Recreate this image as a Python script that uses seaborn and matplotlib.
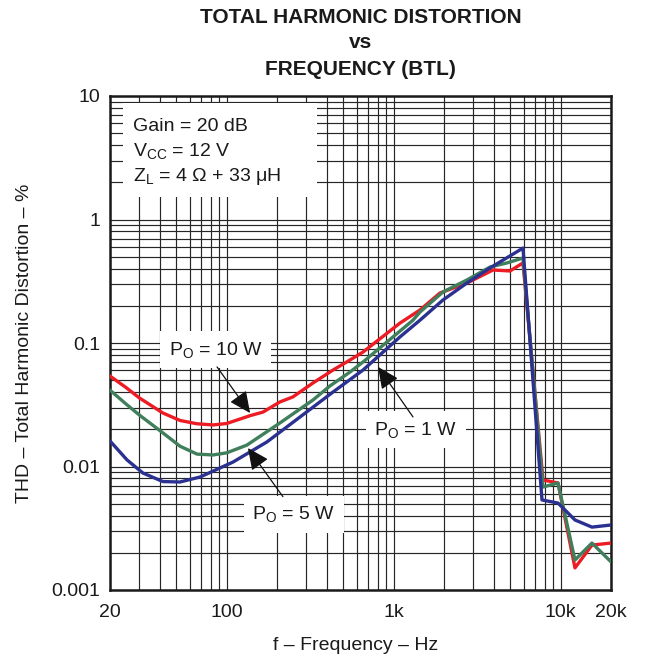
import numpy as np
import pandas as pd
import matplotlib
matplotlib.use("Agg")
import matplotlib.pyplot as plt
import seaborn as sns
from matplotlib.ticker import FixedLocator, FixedFormatter, LogLocator, NullFormatter
from matplotlib.patches import Rectangle

# ---------------- data ----------------
f_10w = [20, 25, 30, 41.5, 52.5, 66, 82.8, 100, 138, 165, 208, 249, 328, 433, 547, 655,
         1090, 1436, 1892, 2745, 3929, 4968, 5944, 7832, 9630, 12170, 15380, 20000]
thd_10w = [0.054, 0.0435, 0.0359, 0.0271, 0.0236, 0.0222, 0.0217, 0.0223, 0.0258, 0.0276,
           0.0333, 0.0366, 0.0474, 0.0604, 0.0728, 0.0845, 0.145, 0.185, 0.254, 0.306,
           0.390, 0.383, 0.445, 0.00778, 0.00735, 0.00151, 0.00231, 0.0024]

f_5w = [20, 25, 30, 41.5, 52.5, 66.4, 82.8, 100, 132, 208, 328, 415, 547, 655,
        1304, 1436, 1972, 2745, 3770, 4765, 5944, 7832, 9630, 12170, 15380, 20000]
thd_5w = [0.0415, 0.032, 0.0261, 0.0187, 0.0146, 0.0126, 0.0124, 0.0129, 0.0149, 0.0225,
          0.0345, 0.0449, 0.0582, 0.0702, 0.153, 0.178, 0.259, 0.324, 0.412, 0.445,
          0.488, 0.00682, 0.00735, 0.00175, 0.0024, 0.00169]

f_1w = [20, 25.3, 31.5, 41.5, 52.5, 69.2, 109, 174, 275, 433, 655, 1090, 1436, 1972,
        2745, 3770, 5944, 7724, 9630, 12170, 15380, 20000]
thd_1w = [0.0161, 0.0113, 0.00885, 0.00755, 0.00749, 0.00822, 0.01086, 0.0158, 0.0252,
          0.0401, 0.0604, 0.112, 0.153, 0.223, 0.306, 0.405, 0.587, 0.00536, 0.00506,
          0.00369, 0.00323, 0.00336]

series_names = ["PO = 10 W", "PO = 5 W", "PO = 1 W"]
series_colors = ["#ED1C24", "#3F7F5C", "#2B3190"]

x_ticks = [20, 100, 1000, 10000, 20000]
x_tick_labels = ["20", "100", "1k", "10k", "20k"]
y_ticks = [0.001, 0.01, 0.1, 1, 10]
y_tick_labels = ["0.001", "0.01", "0.1", "1", "10"]

df = pd.concat([
    pd.DataFrame({"f": f_10w, "thd": thd_10w, "series": series_names[0]}),
    pd.DataFrame({"f": f_5w, "thd": thd_5w, "series": series_names[1]}),
    pd.DataFrame({"f": f_1w, "thd": thd_1w, "series": series_names[2]}),
], ignore_index=True)

# ---------------- style ----------------
sns.set_style("white")
plt.rcParams["font.family"] = ["Liberation Sans", "DejaVu Sans"]
plt.rcParams["mathtext.fontset"] = "custom"
plt.rcParams["mathtext.rm"] = "Liberation Sans"
plt.rcParams["mathtext.it"] = "Liberation Sans:italic"
plt.rcParams["mathtext.bf"] = "Liberation Sans:bold"

W, H = 661, 658
fig = plt.figure(figsize=(W / 100, H / 100), dpi=100)
L, R, T, B = 110, 611, 96, 590
ax = fig.add_axes([L / W, 1 - B / H, (R - L) / W, (B - T) / H])
ax.set_axisbelow(True)

sns.lineplot(data=df, x="f", y="thd", hue="series", hue_order=series_names,
             palette=series_colors, estimator=None, sort=False, legend=False,
             linewidth=2.4, ax=ax, zorder=3)

ax.set_xscale("log")
ax.set_yscale("log")
ax.set_xlim(20, 20000)
ax.set_ylim(0.001, 10)

ax.xaxis.set_major_locator(FixedLocator(x_ticks))
ax.xaxis.set_major_formatter(FixedFormatter(x_tick_labels))
ax.xaxis.set_minor_locator(LogLocator(base=10, subs=np.arange(2, 10)))
ax.xaxis.set_minor_formatter(NullFormatter())
ax.yaxis.set_major_locator(FixedLocator(y_ticks))
ax.yaxis.set_major_formatter(FixedFormatter(y_tick_labels))
ax.yaxis.set_minor_locator(LogLocator(base=10, subs=np.arange(2, 10)))
ax.yaxis.set_minor_formatter(NullFormatter())

ax.grid(which="both", color="#262626", linewidth=0.85)
ax.tick_params(which="both", length=0, labelsize=14, colors="#1a1a1a")
ax.tick_params(axis="x", pad=10)
ax.tick_params(axis="y", pad=7)
for s in ax.spines.values():
    s.set_visible(True)
    s.set_color("#1a1a1a")
    s.set_linewidth(1.8)
ax.set_xlabel("")
ax.set_ylabel("")

# ---------------- titles and axis labels ----------------
cx = (L + R) / 2 / W
fig.text(cx, 1 - 23 / H, "TOTAL HARMONIC DISTORTION", ha="center", va="baseline",
         fontsize=15, fontweight="bold", color="#1a1a1a")
fig.text(cx, 1 - 48 / H, "vs", ha="center", va="baseline",
         fontsize=15, fontweight="bold", color="#1a1a1a")
fig.text(cx, 1 - 75 / H, "FREQUENCY (BTL)", ha="center", va="baseline",
         fontsize=15, fontweight="bold", color="#1a1a1a")
fig.text(cx - 5 / W, 1 - 645 / H, "f \u2013 Frequency \u2013 Hz", ha="center", va="center",
         fontsize=14, color="#1a1a1a")
fig.text(25 / W, 1 - 343 / H, "THD \u2013 Total Harmonic Distortion \u2013 %", ha="center",
         va="center", rotation=90, fontsize=14, color="#1a1a1a")

# ---------------- conditions box ----------------
def ax_x(px):
    return (px - L) / (R - L)

def ax_y(py):
    return (B - py) / (B - T)

ax.add_patch(Rectangle((ax_x(123), ax_y(197)), ax_x(317) - ax_x(123), ax_y(103) - ax_y(197),
                       transform=ax.transAxes, facecolor="white", edgecolor="none", zorder=2))
cond_lines = [
    (131, "Gain = 20 dB"),
    (156, r"V$_{\rm CC}$ = 12 V"),
    (181, r"Z$_{\rm L}$ = 4 $\Omega$ + 33 " + "\u03bcH"),
]
for py, txt in cond_lines:
    ax.text(ax_x(133), ax_y(py), txt, transform=ax.transAxes, ha="left", va="baseline",
            fontsize=14, color="#1a1a1a", zorder=5)

# ---------------- curve labels with arrows ----------------
box = dict(facecolor="white", edgecolor="none", pad=6)
arrow = dict(arrowstyle="-|>,head_length=0.6,head_width=0.28", color="#111111", lw=0.9,
             mutation_scale=22, shrinkA=0, shrinkB=0)

labels = [
    (r"P$_{\rm O}$ = 10 W", (86, 0.088), (87.5, 0.064), (138, 0.0271)),
    (r"P$_{\rm O}$ = 5 W", (253, 0.0041), (217, 0.0057), (134, 0.0141)),
    (r"P$_{\rm O}$ = 1 W", (1360, 0.0199), (1304, 0.0252), (806, 0.064)),
]
for txt, tpos, astart, atip in labels:
    ax.annotate("", xy=atip, xytext=astart, arrowprops=arrow, zorder=6)
    ax.text(tpos[0], tpos[1], txt, ha="center", va="center", fontsize=14,
            color="#1a1a1a", bbox=box, zorder=5)

fig.savefig("out.png", dpi=100)
